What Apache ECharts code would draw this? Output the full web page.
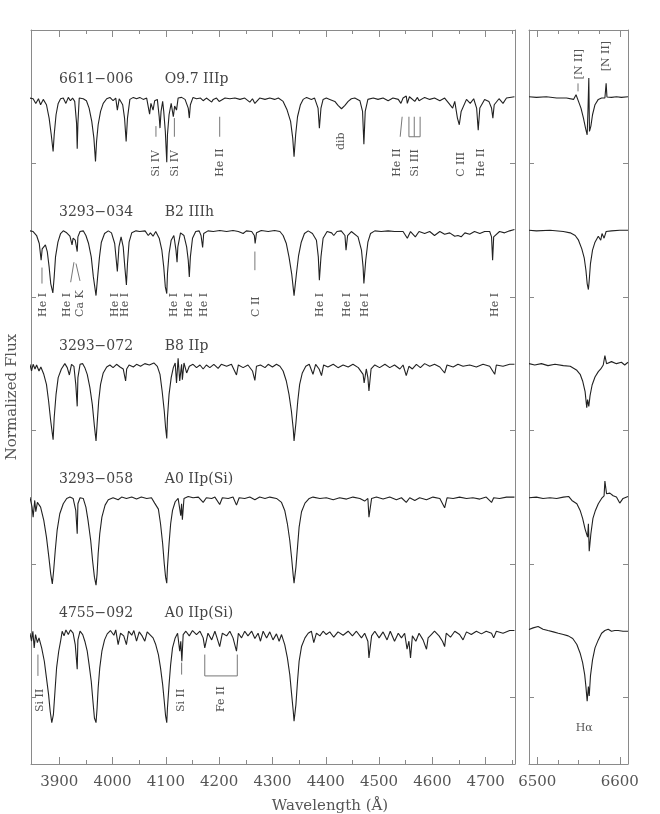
<!DOCTYPE html>
<html>
<head>
<meta charset="utf-8">
<script src="https://cdn.jsdelivr.net/npm/echarts@6/dist/echarts.min.js"></script>
<style>
  html, body { margin: 0; padding: 0; background: #fff; }
  #chart { width: 660px; height: 814px; }
</style>
</head>
<body>
<div id="chart"></div>
<script>
// wavelength ranges (Angstrom) of the two panels
var blueRange = [3847, 4755];
var redRange = [6490, 6610];
var blueMajor = [3900, 4000, 4100, 4200, 4300, 4400, 4500, 4600, 4700];
var blueMinor = [3950, 4050, 4150, 4250, 4350, 4450, 4550, 4650, 4750];
var redMajor = [6500, 6600];
var redMinor = [6525, 6550, 6575];
var fluxTicks = [0.5, 1.5, 2.5, 3.5, 4.5];

// stars, top to bottom
var starNames = ['6611\u2212006', '3293\u2212034', '3293\u2212072', '3293\u2212058', '4755\u2212092'];
var starTypes = ['O9.7 IIIp', 'B2 IIIh', 'B8 IIp', 'A0 IIp(Si)', 'A0 IIp(Si)'];

// normalized flux, [wavelength, flux]
var blue1 = [[3845,0.99],[3851,0.985],[3856,0.95],[3861,0.985],[3865,0.94],[3870,0.98],[3876,0.94],[3881,0.84],[3885,0.715],[3888.5,0.59],[3890.5,0.715],[3894,0.865],[3898,0.95],[3902.5,0.985],[3907.5,0.99],[3912.5,0.95],[3917,0.995],[3921,0.97],[3925,0.99],[3929,0.965],[3932.5,0.8],[3933.7,0.61],[3935,0.8],[3937.5,0.99],[3945,0.985],[3951,0.97],[3956,0.915],[3961,0.815],[3965,0.69],[3968,0.515],[3970,0.665],[3973,0.79],[3977.5,0.89],[3982.5,0.95],[3989,0.985],[3995,0.995],[4001,0.97],[4006,0.99],[4009,0.9],[4012.5,0.985],[4019,0.94],[4022.5,0.84],[4025.5,0.665],[4028,0.84],[4032.5,0.98],[4039,0.995],[4045,0.985],[4051,0.995],[4057.5,0.98],[4064,0.99],[4069.5,0.87],[4072,0.95],[4076,0.9],[4079,0.97],[4084,0.98],[4087.5,0.85],[4089,0.765],[4091,0.89],[4094,0.965],[4096,0.89],[4099,0.74],[4101.7,0.51],[4103,0.715],[4106,0.865],[4110,0.95],[4114,0.85],[4116.5,0.93],[4120,0.9],[4123,0.99],[4129.5,0.995],[4136,0.98],[4142,0.915],[4144,0.84],[4146,0.94],[4151,0.995],[4157.5,0.985],[4165,0.99],[4170,0.97],[4176,0.99],[4186,0.96],[4189,0.98],[4195,0.99],[4200,0.965],[4211,0.99],[4220,0.985],[4229.5,0.99],[4239,0.98],[4248,0.99],[4257.5,0.96],[4262.5,0.985],[4267,0.95],[4276,0.99],[4286,0.98],[4295,0.99],[4304,0.98],[4311,0.99],[4320,0.965],[4327.5,0.9],[4334,0.815],[4338,0.69],[4340.5,0.55],[4343.5,0.715],[4347,0.85],[4352.5,0.94],[4357.5,0.98],[4364,0.995],[4373,0.98],[4379,0.99],[4385.5,0.915],[4388,0.765],[4391,0.915],[4395,0.98],[4401,0.99],[4407.5,0.98],[4417,0.965],[4423,0.935],[4429.5,0.91],[4436,0.935],[4442,0.965],[4448,0.985],[4454.5,0.99],[4464,0.97],[4469,0.89],[4471.5,0.645],[4474,0.89],[4479,0.98],[4489,0.99],[4498,0.98],[4507.5,0.99],[4517,0.97],[4526,0.99],[4536,0.98],[4541,0.95],[4545,0.99],[4551,1.005],[4553,0.95],[4557,1.0],[4567,0.965],[4572,0.995],[4575,0.97],[4585.5,0.995],[4595,0.98],[4604,0.99],[4614,0.97],[4623,0.99],[4631,0.95],[4638,0.915],[4642,0.965],[4647,0.84],[4650.5,0.79],[4654,0.89],[4664,0.98],[4671,0.95],[4677.5,0.985],[4683,0.915],[4686,0.75],[4689,0.915],[4698,0.98],[4706,0.965],[4711,0.915],[4713.5,0.84],[4716,0.94],[4725,0.985],[4732.5,0.95],[4739,0.99],[4754,1.0]];

var blue2 = [[3845,0.995],[3851,0.99],[3857.5,0.96],[3862.5,0.9],[3866,0.775],[3868,0.86],[3871,0.85],[3874,0.89],[3877.5,0.84],[3881,0.725],[3884,0.6],[3888,0.53],[3890.5,0.65],[3893,0.8],[3897.5,0.91],[3902.5,0.975],[3907.5,0.995],[3914,0.98],[3920,0.955],[3924,0.89],[3926,0.94],[3930,0.925],[3933.7,0.84],[3935,0.95],[3939,0.99],[3945,0.995],[3950,0.96],[3955,0.9],[3960,0.8],[3964,0.65],[3969,0.51],[3972,0.65],[3975.5,0.8],[3979,0.91],[3985,0.975],[3992,0.995],[3998,0.98],[4004,0.9],[4009,0.69],[4012,0.875],[4016,0.95],[4020,0.875],[4023,0.725],[4026,0.59],[4028,0.75],[4031,0.91],[4036,0.98],[4044,0.995],[4051,0.99],[4061,0.995],[4067,0.96],[4071,0.98],[4076,0.955],[4081,0.99],[4087.5,0.94],[4092.5,0.85],[4096,0.725],[4099,0.575],[4101.7,0.525],[4103,0.675],[4106,0.825],[4110,0.925],[4115,0.96],[4119,0.85],[4121,0.76],[4122.5,0.875],[4127.5,0.98],[4134,0.96],[4139,0.875],[4142,0.775],[4144,0.65],[4146,0.8],[4150,0.94],[4156,0.99],[4162.5,0.995],[4166,0.96],[4169,0.87],[4171,0.975],[4179,0.995],[4189,0.99],[4201,0.998],[4214,0.99],[4226,0.998],[4236,0.99],[4245,0.975],[4251,0.995],[4261,0.99],[4266,0.96],[4267.5,0.9],[4270,0.98],[4279,0.998],[4292,0.99],[4304,0.998],[4314,0.99],[4320,0.96],[4326,0.9],[4331,0.8],[4336,0.675],[4340.5,0.51],[4345,0.675],[4349,0.81],[4354,0.91],[4360,0.975],[4367,0.995],[4375,0.975],[4382.5,0.925],[4386,0.8],[4388,0.625],[4391,0.8],[4395,0.94],[4402.5,0.99],[4411,0.98],[4415,0.96],[4421,0.99],[4429,0.995],[4436,0.96],[4438,0.85],[4441,0.96],[4448,0.99],[4460.5,0.95],[4467,0.85],[4470,0.725],[4471.5,0.6],[4475,0.775],[4479,0.91],[4484,0.975],[4492,0.995],[4504,0.99],[4517,0.995],[4529,0.99],[4545,0.99],[4553,0.94],[4559,0.99],[4568,0.95],[4575,0.99],[4585.5,0.975],[4595,0.99],[4604,0.96],[4614,0.99],[4623,0.97],[4632.5,0.98],[4642,0.955],[4648,0.96],[4654,0.95],[4661,0.98],[4670,0.97],[4679,0.99],[4689,0.975],[4698,0.99],[4707.5,0.99],[4711,0.95],[4713,0.775],[4715,0.95],[4726,0.99],[4735.5,0.98],[4745,0.995],[4754,1.005]];

var blue3 = [[3845,0.995],[3848,0.945],[3851,0.995],[3854.5,0.96],[3857.5,0.99],[3862,0.945],[3865.5,0.975],[3871,0.92],[3876,0.845],[3880,0.72],[3884,0.57],[3888.5,0.43],[3890.5,0.595],[3894,0.77],[3898,0.895],[3904,0.96],[3910.5,1.0],[3915,0.97],[3919,0.915],[3923,0.995],[3927.5,0.98],[3931,0.845],[3933.7,0.68],[3935,0.895],[3939,0.995],[3944,1.0],[3948,0.97],[3952.5,0.92],[3957.5,0.82],[3962,0.695],[3966,0.53],[3969,0.42],[3971,0.545],[3974,0.72],[3977.5,0.845],[3982.5,0.93],[3989,0.975],[3995,0.99],[4001,0.97],[4007.5,0.995],[4014,0.975],[4020,0.96],[4024.5,0.87],[4026.5,0.96],[4031,0.99],[4039,0.975],[4045,0.995],[4052.5,0.98],[4060.5,1.0],[4069,0.99],[4077.5,1.005],[4084,0.98],[4089,0.92],[4093,0.795],[4097,0.645],[4099.5,0.52],[4101.7,0.44],[4103,0.595],[4106,0.77],[4110,0.895],[4114,0.97],[4117.5,1.005],[4120,0.855],[4123,1.04],[4126,0.87],[4129.5,0.995],[4131,0.88],[4134,1.005],[4139,0.93],[4144,0.98],[4151,0.995],[4157.5,0.97],[4164,0.99],[4170,0.96],[4176,0.99],[4182.5,0.97],[4190,0.995],[4198,0.965],[4204,0.995],[4214,0.98],[4223,0.995],[4232.5,0.915],[4236,0.99],[4245,0.97],[4254,0.99],[4262.5,0.945],[4267,0.875],[4270,0.98],[4277.5,0.99],[4286,0.97],[4292,0.995],[4300,0.975],[4307.5,0.995],[4314,0.98],[4320,0.945],[4326,0.87],[4331,0.77],[4335.5,0.645],[4339,0.51],[4340.5,0.42],[4344,0.555],[4347.5,0.72],[4351,0.845],[4356,0.93],[4362.5,0.98],[4369,0.995],[4376,0.92],[4381,0.995],[4387.5,0.96],[4392,0.91],[4396,0.99],[4404,0.975],[4414,0.995],[4423,0.97],[4432.5,0.99],[4442,0.975],[4451,0.995],[4461,0.97],[4470,0.92],[4472,0.855],[4476,0.96],[4479,0.895],[4481,0.795],[4485,0.96],[4492,0.99],[4501,0.97],[4511,0.995],[4520,0.97],[4529,0.99],[4539,0.96],[4545,0.99],[4551,0.91],[4556,0.98],[4562.5,0.96],[4570,0.995],[4577.5,0.97],[4585.5,1.0],[4595,0.98],[4604,0.995],[4614,0.975],[4623,0.93],[4627.5,0.99],[4639,0.975],[4648,0.995],[4657.5,0.98],[4670,0.99],[4682.5,0.975],[4695,0.995],[4707.5,0.98],[4717,0.92],[4720,0.99],[4732.5,0.98],[4745,0.995],[4754,0.995]];

var blue4 = [[3845,1.0],[3849,0.925],[3851,0.85],[3854,0.975],[3856,0.89],[3859,0.96],[3865,0.925],[3871,0.825],[3876,0.7],[3880.5,0.55],[3884,0.425],[3887,0.35],[3889.5,0.45],[3892.5,0.6],[3896,0.75],[3901,0.875],[3907.5,0.95],[3914,0.99],[3920,1.0],[3926,0.99],[3931,0.9],[3933.7,0.725],[3935,0.95],[3939,0.995],[3945,0.99],[3950,0.925],[3954,0.825],[3959,0.675],[3962.5,0.525],[3966,0.4],[3969,0.34],[3971,0.425],[3973,0.575],[3976,0.725],[3980,0.85],[3986,0.94],[3992,0.98],[4001,0.995],[4010.5,0.98],[4017,1.0],[4026,0.99],[4036,1.0],[4045,0.985],[4054,1.0],[4064,0.99],[4073,0.995],[4079,0.955],[4086,0.91],[4090,0.8],[4094,0.65],[4097,0.5],[4099.5,0.4],[4101.7,0.355],[4103,0.475],[4106,0.65],[4109,0.8],[4112.5,0.9],[4117.5,0.965],[4123,0.99],[4128,0.86],[4129.5,0.95],[4131,0.83],[4134,0.99],[4142,1.005],[4151,0.995],[4161,1.0],[4170,0.96],[4176,0.995],[4186,0.99],[4192,1.0],[4201,0.945],[4206,0.995],[4217,0.99],[4226,1.0],[4232.5,0.94],[4237.5,0.995],[4248,0.99],[4257.5,1.0],[4267,0.98],[4276,1.0],[4286,0.99],[4295,1.0],[4307.5,0.99],[4317,0.96],[4323,0.9],[4328,0.8],[4332.5,0.675],[4336,0.54],[4339,0.41],[4340.5,0.355],[4344,0.475],[4347,0.625],[4350,0.775],[4354.5,0.89],[4361,0.955],[4369,0.99],[4376,1.0],[4389,0.99],[4401,0.995],[4414,0.98],[4426,0.995],[4439,0.985],[4451,1.0],[4464,0.99],[4473,0.97],[4479,0.99],[4481,0.85],[4486,0.99],[4495,1.0],[4507.5,0.985],[4520,1.0],[4532.5,0.98],[4542,0.995],[4551,0.96],[4557.5,0.995],[4567,0.975],[4576,0.995],[4589,0.98],[4601,1.0],[4614,0.99],[4623,0.92],[4627.5,0.995],[4639,0.99],[4651,1.0],[4664,0.99],[4676,0.995],[4689,0.985],[4701,1.0],[4711,0.96],[4715,0.995],[4726,0.99],[4739,1.0],[4754,1.0]];

var blue5 = [[3845,0.98],[3848,0.92],[3850.5,0.995],[3853,0.87],[3855.5,0.97],[3859,0.91],[3862,0.945],[3867,0.87],[3872,0.77],[3876,0.645],[3880,0.52],[3883,0.395],[3886,0.31],[3889,0.37],[3892,0.545],[3895,0.72],[3899,0.845],[3902.5,0.92],[3905.5,0.995],[3909,0.96],[3912.5,1.005],[3917,0.97],[3921,1.005],[3926,0.98],[3930,0.895],[3933.7,0.71],[3935,0.93],[3939,0.995],[3944,0.97],[3948,0.92],[3952.5,0.845],[3956,0.745],[3960,0.62],[3963,0.48],[3966,0.345],[3969,0.31],[3971,0.42],[3973,0.57],[3976,0.72],[3980,0.845],[3985,0.93],[3990,0.975],[3996,1.0],[4002.5,0.965],[4006,1.005],[4010.5,0.895],[4015,0.98],[4021,0.96],[4026,0.895],[4030,0.995],[4036,0.965],[4040,1.0],[4045,0.92],[4050,0.99],[4055.5,0.96],[4060.5,0.92],[4065,0.99],[4070,0.97],[4076,0.945],[4081,0.895],[4086,0.82],[4090,0.72],[4094,0.595],[4097,0.47],[4099.5,0.36],[4101.7,0.31],[4103,0.42],[4106,0.595],[4109,0.745],[4112.5,0.87],[4117.5,0.945],[4122,0.98],[4126,0.845],[4128,0.92],[4130,0.77],[4132.5,0.97],[4137.5,0.995],[4144,0.96],[4150,1.0],[4157.5,0.97],[4164,0.995],[4170,0.945],[4173,0.87],[4179,0.98],[4186,0.93],[4192,0.995],[4196,0.945],[4201,0.88],[4206,0.98],[4214,0.96],[4220,0.995],[4226,0.945],[4232.5,0.845],[4236,0.98],[4242,0.945],[4248,0.995],[4254,0.96],[4261,0.995],[4267,0.94],[4273,0.98],[4277.5,0.92],[4282.5,0.995],[4289,0.945],[4295,0.99],[4301,0.93],[4307.5,0.975],[4312.5,0.92],[4317,0.97],[4323,0.895],[4328,0.795],[4332.5,0.67],[4336,0.52],[4339,0.395],[4340.5,0.32],[4344,0.445],[4347,0.62],[4350,0.77],[4354.5,0.88],[4361,0.945],[4367,0.98],[4373,0.995],[4377.5,0.91],[4382.5,0.98],[4389,0.96],[4395,0.995],[4401,0.97],[4407.5,0.99],[4415,0.95],[4423,0.99],[4432.5,0.965],[4442,0.995],[4450,0.96],[4457.5,0.995],[4467,0.945],[4473,0.98],[4479,0.92],[4481,0.795],[4486,0.96],[4492,0.995],[4500,0.945],[4507.5,0.99],[4515,0.93],[4521,0.995],[4529,0.92],[4536,0.98],[4542,0.945],[4548,0.98],[4552.5,0.86],[4556,0.92],[4559,0.795],[4562.5,0.96],[4569,0.92],[4575,0.98],[4582.5,0.93],[4589,0.86],[4592,0.945],[4598,0.97],[4604,0.995],[4612.5,0.96],[4619,0.92],[4623,0.88],[4626,0.98],[4634,0.95],[4642,0.995],[4651,0.97],[4657.5,0.93],[4664,0.99],[4673,0.97],[4682.5,0.995],[4692,0.975],[4701,0.995],[4711,0.98],[4715,0.945],[4720,0.995],[4732.5,0.98],[4745,1.0],[4754,1.0]];

var red1 = [[6490,1.0],[6499,0.995],[6511,1.0],[6523.5,0.99],[6535.5,0.99],[6544,0.98],[6547,1.015],[6550,0.965],[6553,0.915],[6556,0.84],[6558.5,0.765],[6560.5,0.715],[6561.5,0.9],[6562.5,1.14],[6563.3,0.74],[6565,0.78],[6567,0.865],[6570,0.94],[6574,0.98],[6578,0.99],[6582,0.99],[6583.5,1.1],[6584.5,0.998],[6590,0.995],[6596,1.0],[6602,0.995],[6610,1.0]];
var red2 = [[6490,1.0],[6499,0.995],[6515.5,1.0],[6531.6,0.99],[6540,0.98],[6546,0.96],[6550,0.925],[6554,0.86],[6557,0.79],[6559,0.7],[6560.5,0.6],[6562,0.555],[6563,0.625],[6564.5,0.75],[6567,0.85],[6570,0.91],[6574,0.955],[6577,0.925],[6578.5,0.975],[6581,0.94],[6583.5,0.99],[6590,0.995],[6600,1.0],[6610,1.0]];
var red3 = [[6490,1.0],[6497,0.99],[6505,1.0],[6513,0.985],[6521.5,0.995],[6531.6,0.985],[6540,0.98],[6548,0.95],[6552,0.92],[6555,0.87],[6558,0.79],[6560,0.67],[6561,0.73],[6562.5,0.68],[6564,0.76],[6566.5,0.84],[6570,0.9],[6574,0.94],[6577,0.96],[6580,0.99],[6582,1.06],[6584,1.0],[6590,1.015],[6596,1.0],[6602,1.01],[6606,0.99],[6610,1.01]];
var red4 = [[6490,0.995],[6499,1.0],[6507,0.99],[6515.5,0.995],[6523.5,0.99],[6531.6,1.0],[6538,1.005],[6542,0.975],[6548,0.95],[6552,0.9],[6555,0.84],[6558,0.76],[6561,0.7],[6562,0.8],[6563,0.595],[6565,0.725],[6567.5,0.84],[6570.5,0.9],[6574,0.95],[6578,0.99],[6581,1.01],[6582,1.12],[6584,1.025],[6588,1.03],[6592,1.01],[6596,1.0],[6600,0.955],[6604,0.99],[6610,1.005]];
var red5 = [[6490,1.0075],[6495,1.02],[6501,1.03],[6507,1.01],[6513,1.0],[6519.5,0.99],[6525.5,0.98],[6531.6,0.97],[6537.5,0.96],[6543,0.94],[6548,0.895],[6552,0.83],[6555,0.76],[6557.5,0.67],[6559,0.58],[6560.5,0.47],[6562,0.58],[6563,0.51],[6564.5,0.66],[6567,0.78],[6570,0.87],[6574,0.93],[6578,0.98],[6582,1.0],[6586,1.01],[6590,0.995],[6594,1.0],[6598,1.0],[6604,0.995],[6610,0.995]];

var blueSpectra = [blue1, blue2, blue3, blue4, blue5];
var redSpectra = [red1, red2, red3, red4, red5];

// line identifications: [wavelength, y of text start, text]
var blueIds = [
  [4081, 4.40, 'Si IV'], [4117, 4.40, 'Si IV'], [4201, 4.40, 'He II'], [4429.5, 4.60, 'dib'],
  [4533, 4.40, 'He II'], [4567, 4.40, 'Si III'], [4654.5, 4.40, 'C III'], [4692, 4.40, 'He II'],
  [3869, 3.35, 'He I'], [3914, 3.35, 'He I'], [3939, 3.35, 'Ca K'], [4004.5, 3.35, 'He I'],
  [4024.5, 3.35, 'He I'], [4115, 3.35, 'He I'], [4144, 3.35, 'He I'], [4171, 3.35, 'He I'],
  [4269, 3.35, 'C II'], [4390, 3.35, 'He I'], [4440, 3.35, 'He I'], [4473, 3.35, 'He I'],
  [4718, 3.35, 'He I'],
  [3864, 0.39, 'Si II'], [4129.6, 0.39, 'Si II'], [4204.5, 0.39, 'Fe II']
];
var redIds = [[6551, 5.13, '[N II]'], [6584, 5.19, '[N II]']];
// marker strokes: [w1, y1, w2, y2]
var blueMarks = [
  [4081.4, 4.78, 4081.4, 4.70], [4116, 4.84, 4116, 4.70], [4201, 4.85, 4201, 4.70],
  [4543.3, 4.85, 4539.6, 4.70],
  [4556, 4.85, 4556, 4.70], [4566, 4.85, 4566, 4.70], [4577, 4.85, 4577, 4.70], [4556, 4.70, 4577, 4.70],
  [3867.6, 3.72, 3867.6, 3.60], [3927.6, 3.76, 3921.4, 3.61], [3931.4, 3.75, 3938.9, 3.62],
  [4267, 3.84, 4267, 3.70],
  [3860, 0.82, 3860, 0.66], [4129.6, 0.76, 4129.6, 0.67],
  [4173, 0.82, 4173, 0.66], [4234, 0.82, 4234, 0.66], [4173, 0.66, 4234, 0.66]
];
var redMarks = [[6549.4, 5.10, 6549.4, 5.04]];

var inkColor = '#222';
var axisColor = '#8a8a8a';
var serif = '"DejaVu Serif", "Liberation Serif", serif';

var chart = echarts.init(document.getElementById('chart'), null, { renderer: 'canvas' });

function xAxisDef(grid, range, ticks, len, pos, labels) {
  return {
    type: 'value', gridIndex: grid, min: range[0], max: range[1], position: pos,
    axisLine: { show: len > 5, lineStyle: { color: axisColor, width: 1 } },
    axisTick: { show: true, inside: true, length: len, customValues: ticks, lineStyle: { color: axisColor } },
    axisLabel: labels ? {
      show: true, customValues: labels, margin: 11, color: '#555', fontFamily: serif, fontSize: 15,
      formatter: function (v) { return String(v); }
    } : { show: false },
    splitLine: { show: false }
  };
}
function yAxisDef(grid, pos, name) {
  var ax = {
    type: 'value', gridIndex: grid, min: 0, max: 5.5, position: pos,
    axisLine: { show: true, lineStyle: { color: axisColor, width: 1 } },
    axisTick: { show: true, inside: true, length: 5, customValues: fluxTicks, lineStyle: { color: axisColor } },
    axisLabel: { show: false },
    splitLine: { show: false }
  };
  if (name) {
    ax.name = name;
    ax.nameLocation = 'middle';
    ax.nameGap = 11;
    ax.nameTextStyle = { color: '#555', fontFamily: serif, fontSize: 15 };
  }
  return ax;
}

var series = [];
blueSpectra.forEach(function (spec, k) {
  var off = 4 - k;
  series.push({
    type: 'line', xAxisIndex: 0, yAxisIndex: 0, showSymbol: false, symbol: 'none', silent: true,
    lineStyle: { color: inkColor, width: 1.1 },
    data: spec.map(function (p) { return [p[0], p[1] + off]; })
  });
});
redSpectra.forEach(function (spec, k) {
  var off = 4 - k;
  series.push({
    type: 'line', xAxisIndex: 4, yAxisIndex: 2, showSymbol: false, symbol: 'none', silent: true,
    lineStyle: { color: inkColor, width: 1.1 },
    data: spec.map(function (p) { return [p[0], p[1] + off]; })
  });
});

function idSeries(list, xi, yi) {
  return {
    type: 'custom', xAxisIndex: xi, yAxisIndex: yi, silent: true,
    data: list.map(function (d) { return [d[0], d[1]]; }),
    renderItem: function (params, api) {
      var p = api.coord([api.value(0), api.value(1)]);
      return {
        type: 'text', x: p[0], y: p[1], rotation: Math.PI / 2,
        style: { text: list[params.dataIndex][2], fill: '#555', font: '11px ' + serif, align: 'left', verticalAlign: 'middle' }
      };
    }
  };
}
function markSeries(list, xi, yi) {
  return {
    type: 'custom', xAxisIndex: xi, yAxisIndex: yi, silent: true,
    encode: { x: [0, 2], y: [1, 3] },
    data: list,
    renderItem: function (params, api) {
      var a = api.coord([api.value(0), api.value(1)]);
      var b = api.coord([api.value(2), api.value(3)]);
      return { type: 'line', shape: { x1: a[0], y1: a[1], x2: b[0], y2: b[1] }, style: { stroke: '#777', lineWidth: 1 } };
    }
  };
}
series.push(idSeries(blueIds, 0, 0), idSeries(redIds, 4, 2), markSeries(blueMarks, 0, 0), markSeries(redMarks, 4, 2));

// star names and spectral types
series.push({
  type: 'custom', xAxisIndex: 0, yAxisIndex: 0, silent: true,
  data: starNames.map(function (n, k) { return [3899.5, 5.13 - k]; }),
  renderItem: function (params, api) {
    var p = api.coord([api.value(0), api.value(1)]);
    var q = api.coord([4098, api.value(1)]);
    var st = { fill: '#444', font: '14px ' + serif, align: 'left', verticalAlign: 'middle' };
    return {
      type: 'group', children: [
        { type: 'text', x: p[0], y: p[1], style: Object.assign({ text: starNames[params.dataIndex] }, st) },
        { type: 'text', x: q[0], y: q[1], style: Object.assign({ text: starTypes[params.dataIndex] }, st) }
      ]
    };
  }
});
// H-alpha label
series.push({
  type: 'custom', xAxisIndex: 4, yAxisIndex: 2, silent: true,
  data: [[6557, 0.27]],
  renderItem: function (params, api) {
    var p = api.coord([api.value(0), api.value(1)]);
    return { type: 'text', x: p[0], y: p[1], style: { text: 'H\u03b1', fill: '#555', font: '11px ' + serif, align: 'center', verticalAlign: 'middle' } };
  }
});

chart.setOption({
  animation: false,
  backgroundColor: '#fff',
  title: {
    text: 'Wavelength (\u00c5)', left: 'center', top: 794,
    textStyle: { color: '#555', fontFamily: serif, fontSize: 15, fontWeight: 'normal' }
  },
  grid: [
    { left: 31, top: 30, width: 484, height: 734, outerBoundsMode: 'none', containLabel: false },
    { left: 529, top: 30, width: 99, height: 734, outerBoundsMode: 'none', containLabel: false }
  ],
  xAxis: [
    xAxisDef(0, blueRange, blueMajor, 7, 'bottom', blueMajor),
    xAxisDef(0, blueRange, blueMinor, 4, 'bottom', null),
    xAxisDef(0, blueRange, blueMajor, 7, 'top', null),
    xAxisDef(0, blueRange, blueMinor, 4, 'top', null),
    xAxisDef(1, redRange, redMajor, 7, 'bottom', redMajor),
    xAxisDef(1, redRange, redMinor, 4, 'bottom', null),
    xAxisDef(1, redRange, redMajor, 7, 'top', null),
    xAxisDef(1, redRange, redMinor, 4, 'top', null)
  ],
  yAxis: [
    yAxisDef(0, 'left', 'Normalized Flux'),
    yAxisDef(0, 'right', null),
    yAxisDef(1, 'left', null),
    yAxisDef(1, 'right', null)
  ],
  series: series
});
</script>
</body>
</html>
